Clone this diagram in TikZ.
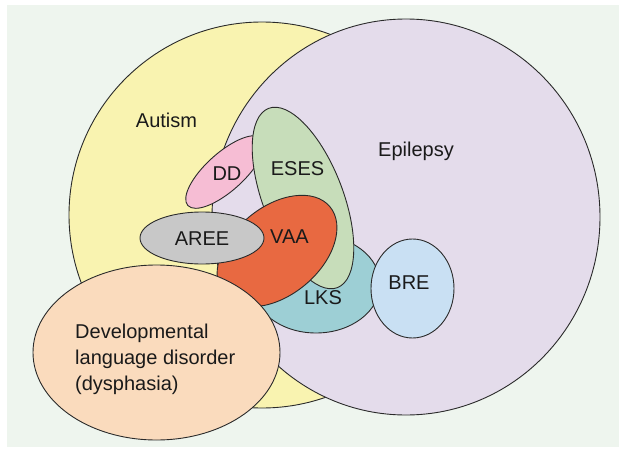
\documentclass[tikz,border=0pt]{standalone}
\usepackage{fontspec}
\setmainfont{Liberation Sans}
\usetikzlibrary{shapes.geometric}
\definecolor{panelc}{HTML}{EEF5EE}
\definecolor{linec}{HTML}{2A2A2A}
\definecolor{textc}{HTML}{1A1A1A}
\definecolor{autc}{HTML}{F9F3B0}
\definecolor{epic}{HTML}{E4DCEB}
\definecolor{ddc}{HTML}{F6BDD4}
\definecolor{esesc}{HTML}{C7DDBA}
\definecolor{vaac}{HTML}{E86941}
\definecolor{areec}{HTML}{C8C8C8}
\definecolor{lksc}{HTML}{9DCFD5}
\definecolor{brec}{HTML}{C9E0F3}
\definecolor{dldc}{HTML}{FADBBD}
\begin{document}
\begin{tikzpicture}[x=1pt,y=-1pt,
  region/.style={ellipse, draw=linec, line width=0.9pt, inner sep=0pt, outer sep=0pt},
  lbl/.style={font=\fontsize{20}{26}\selectfont, text=textc, inner sep=0pt, anchor=base}]
\useasboundingbox (0,0) rectangle (622,450);
\fill[panelc] (7,5) rectangle (619,447);
\node[region, fill=autc, minimum width=386pt, minimum height=386pt] (autism) at (262,215) {};
\node[region, fill=epic, minimum width=388pt, minimum height=396pt] (epilepsy) at (406,217) {};
\node[region, fill=ddc, minimum width=100pt, minimum height=38pt, rotate=42] (dd) at (225,172) {};
\node[region, fill=lksc, minimum width=128pt, minimum height=98pt] (lks) at (316,284) {};
\node[region, fill=esesc, minimum width=192pt, minimum height=80pt, rotate=-69] (eses) at (303,198) {};
\node[region, fill=vaac, minimum width=138pt, minimum height=88pt, rotate=40] (vaa) at (277,251) {};
\node[region, fill=areec, minimum width=124pt, minimum height=52pt] (aree) at (202,238) {};
\node[region, fill=brec, minimum width=83pt, minimum height=99pt] (bre) at (412.5,288.5) {};
\node[region, fill=dldc, minimum width=247pt, minimum height=175pt] (dld) at (156.5,352.5) {};
\node[lbl] (tautism) at (166.5,127) {Autism};
\node[lbl] (tepilepsy) at (416,156) {Epilepsy};
\node[lbl] (tdd) at (227,180) {DD};
\node[lbl] (teses) at (297.5,175) {ESES};
\node[lbl] (taree) at (202,245) {AREE};
\node[lbl] (tvaa) at (289.5,243) {VAA};
\node[lbl] (tlks) at (323,304) {LKS};
\node[lbl] (tbre) at (409,289) {BRE};
\node[lbl, align=left, anchor=base west] (tdld) at (75,390) {Developmental\\language disorder\\(dysphasia)};
\end{tikzpicture}
\end{document}
